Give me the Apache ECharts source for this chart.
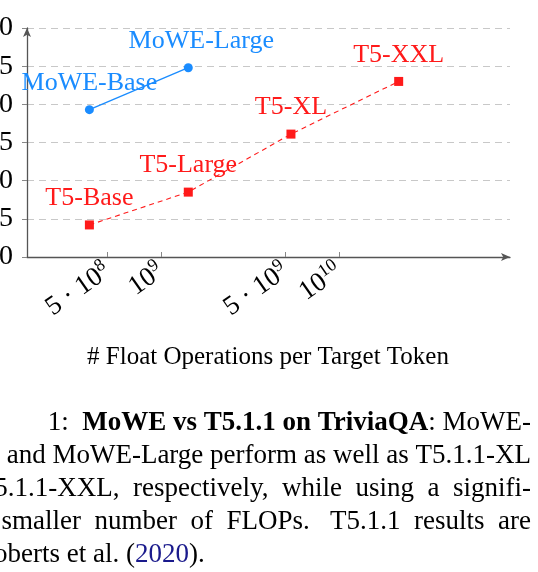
<!DOCTYPE html>
<html>
<head>
<meta charset="utf-8">
<script src="https://cdn.jsdelivr.net/npm/echarts@6/dist/echarts.min.js"></script>
<style>html,body{margin:0;padding:0;background:#fff;overflow:hidden}</style>
</head>
<body>
<div id="chart" style="width:538px;height:572px"></div>
<script>
const moweNames = ["MoWE-Base", "MoWE-Large"];
const moweFlops = [3.95e8, 1.42e9];
const moweScore = [59.3, 64.8];
const t5Names = ["T5-Base", "T5-Large", "T5-XL", "T5-XXL"];
const t5Flops = [3.95e8, 1.42e9, 5.36e9, 2.16e10];
const t5Score = [44.2, 48.5, 56.1, 63.0];
const xTicks = [5e8, 1e9, 5e9, 1e10];
const xTickLabels = ["5 · 10{s|8}", "10{s|9}", "5 · 10{s|9}", "10{s|10}"];

const serif = "Liberation Serif";
const blue = "#1a8cff", red = "#ff1a1a";

const chart = echarts.init(document.getElementById("chart"));

const moweDx = [0, 13];

chart.setOption({
    animation: false,
    grid: { left: 27, right: 28, top: 28, bottom: 315, containLabel: false, outerBoundsMode: "none" },
    xAxis: {
        type: "log",
        min: Math.pow(10, 8.246),
        max: Math.pow(10, 10.96),
        axisLine: { lineStyle: { color: "#555", width: 1.3 }, symbol: ["none", "arrow"], symbolSize: [6, 9] },
        axisTick: { inside: true, length: 5, customValues: xTicks, lineStyle: { color: "#888" } },
        splitLine: { show: false },
        axisLabel: {
            customValues: xTicks,
            rotate: 35, margin: 12,
            fontFamily: serif, fontSize: 27, color: "#000",
            formatter: v => xTickLabels[xTicks.findIndex(t => Math.abs(t - v) / t < 1e-6)] || "",
            rich: { s: { fontFamily: serif, fontSize: 18, verticalAlign: "top", padding: [0, 0, 14, 0] } }
        }
    },
    yAxis: {
        type: "value", min: 40, max: 70, interval: 5,
        axisLine: { show: true, lineStyle: { color: "#555", width: 1.3 }, symbol: ["none", "arrow"], symbolSize: [6, 9] },
        axisTick: { show: true, length: 5, lineStyle: { color: "#888" } },
        axisLabel: { fontFamily: serif, fontSize: 28, color: "#000", margin: 14 },
        splitLine: { lineStyle: { type: [7, 5], color: "#c8c8c8" } }
    },
    series: [
        {
            type: "line",
            data: moweFlops.map((x, i) => [x, moweScore[i]]),
            symbol: "circle", symbolSize: 9,
            lineStyle: { color: blue, width: 1.3 },
            itemStyle: { color: blue },
            label: {
                show: true, position: "top", distance: 9,
                fontFamily: serif, fontSize: 26, color: blue,
                formatter: p => moweNames[p.dataIndex]
            },
            labelLayout: p => ({ dx: moweDx[p.dataIndex] })
        },
        {
            type: "line",
            data: t5Flops.map((x, i) => [x, t5Score[i]]),
            symbol: "rect", symbolSize: 9,
            lineStyle: { color: red, width: 1.1, type: [5, 4] },
            itemStyle: { color: red },
            label: {
                show: true, position: "top", distance: 9,
                fontFamily: serif, fontSize: 26, color: red,
                formatter: p => t5Names[p.dataIndex]
            }
        }
    ],
    graphic: [
        { type: "text", x: 268, y: 357, style: { text: "# Float Operations per Target Token", align: "center", verticalAlign: "middle", font: "25px " + serif, fill: "#000" } },
        { type: "text", x: 531, y: 423, style: { text: "1:  {b|MoWE vs T5.1.1 on TriviaQA}: MoWE-", align: "right", verticalAlign: "middle", font: "27px " + serif, fill: "#000", rich: { b: { font: "bold 27px " + serif, fill: "#000" } } } },
        { type: "text", x: 531, y: 456, style: { text: "and MoWE-Large perform as well as T5.1.1-XL", align: "right", verticalAlign: "middle", font: "27px " + serif, fill: "#000" } },
        { type: "text", x: 531, y: 489, style: { text: "T5.1.1-XXL,  respectively,  while  using  a  signifi-", align: "right", verticalAlign: "middle", font: "27px " + serif, fill: "#000" } },
        { type: "text", x: 531, y: 522, style: { text: "smaller  number  of  FLOPs.   T5.1.1  results  are", align: "right", verticalAlign: "middle", font: "27px " + serif, fill: "#000" } },
        { type: "text", x: -6, y: 555, style: { text: "{c|oberts et al. (}{d|2020}{c|).}", verticalAlign: "middle", font: "27px " + serif, rich: { c: { font: "27px " + serif, fill: "#000" }, d: { font: "27px " + serif, fill: "#1a1a8c" } } } }
    ]
});
</script>
</body>
</html>
